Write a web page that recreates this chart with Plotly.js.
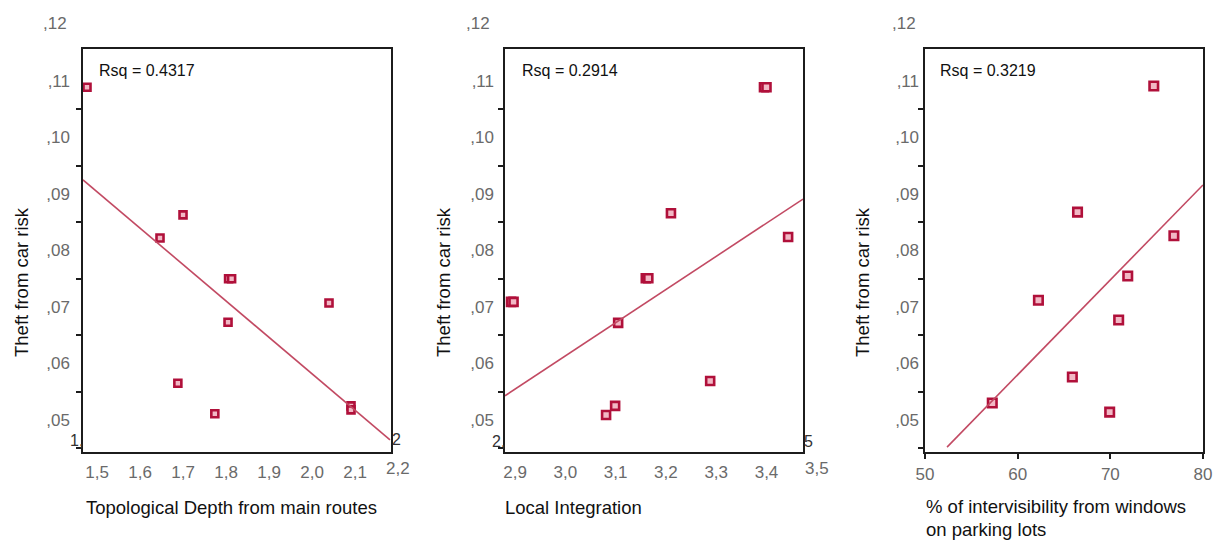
<!DOCTYPE html>
<html>
<head>
<meta charset="utf-8">
<script src="https://cdn.plot.ly/plotly-3.0.1.min.js"></script>
<style>html,body{margin:0;padding:0;background:#fff;}#chart{width:1216px;height:540px;}</style>
</head>
<body>
<div id="chart"></div>
<script>
// ---------- data ----------
const yTitle = "Theft from car risk";
const yLabelVals = [0.05, 0.06, 0.07, 0.08, 0.09, 0.10, 0.11];
const yLabelText = [",05", ",06", ",07", ",08", ",09", ",10", ",11"];
const yTopLabelText = ",12";
const yTickVals = [0.045, 0.055, 0.065, 0.075, 0.085, 0.095, 0.105];

// Panel 1
const p1Title = "Topological Depth from main routes";
const p1Rsq = "Rsq = 0.4317";
const p1XLabelVals = [1.5, 1.6, 1.7, 1.8, 1.9, 2.0, 2.1];
const p1XLabelText = ["1,5", "1,6", "1,7", "1,8", "1,9", "2,0", "2,1"];
const p1XEdgeText = "2,2";
const p1X = [1.4767, 1.6465, 1.700, 1.806, 1.813, 1.8047, 2.0395, 1.688, 1.774, 2.0907, 2.0907];
const p1Y = [0.1089, 0.0822, 0.0863, 0.0750, 0.0750, 0.0673, 0.0707, 0.0565, 0.0511, 0.0525, 0.0518];
const p1FitX = [1.4674, 2.1814];
const p1FitY = [0.0925, 0.0465];

// Panel 2
const p2Title = "Local Integration";
const p2Rsq = "Rsq = 0.2914";
const p2XLabelVals = [2.9, 3.0, 3.1, 3.2, 3.3, 3.4];
const p2XLabelText = ["2,9", "3,0", "3,1", "3,2", "3,3", "3,4"];
const p2XEdgeText = "3,5";
const p2X = [3.395, 3.400, 3.210, 3.443, 2.892, 2.897, 3.160, 3.165, 3.105, 3.288, 3.081, 3.099];
const p2Y = [0.1089, 0.1089, 0.0866, 0.0824, 0.0709, 0.0709, 0.0751, 0.0751, 0.0672, 0.0569, 0.0509, 0.0525];
const p2FitX = [2.880, 3.4726];
const p2FitY = [0.0543, 0.0891];

// Panel 3
const p3Title1 = "% of intervisibility from windows";
const p3Title2 = "on parking lots";
const p3Rsq = "Rsq = 0.3219";
const p3XLabelVals = [50, 60, 70, 80];
const p3XLabelText = ["50", "60", "70", "80"];
const p3X = [74.69, 66.46, 76.86, 71.88, 62.24, 70.90, 65.90, 57.26, 69.93];
const p3Y = [0.1091, 0.0868, 0.0826, 0.0755, 0.0712, 0.0677, 0.0576, 0.0530, 0.0514];
const p3FitX = [52.38, 80];
const p3FitY = [0.0452, 0.0916];

// corner artefact labels
const cornerLabels = ["1,", "2", "2,", "5"];

// ---------- styling ----------
const W = 1216, H = 540;
const FONT = "Liberation Sans, Arial, sans-serif";
const tickGray = "#6a6a6a";
const axisCol = "#1c1c1c";
const markCol = "#b0103a";
const fitCol = "#c24a63";
const yRange = [0.04434, 0.11566];
const yDomain = [(H - 452) / H, (H - 49) / H];
const xDomains = [[83 / W, 391 / W], [505 / W, 803 / W], [925 / W, 1203 / W]];
const xRanges = [[1.4674, 2.1837], [2.880, 3.4726], [50, 80]];

function pts(x, y, xa, ya, size) {
  return { x: x, y: y, xaxis: xa, yaxis: ya, type: "scatter", mode: "markers", showlegend: false, hoverinfo: "skip",
    marker: { symbol: "square", size: size, color: "#f2b8c5", line: { color: markCol, width: 2.6 } } };
}
function fit(x, y, xa, ya) {
  return { x: x, y: y, xaxis: xa, yaxis: ya, type: "scatter", mode: "lines", showlegend: false, hoverinfo: "skip",
    line: { color: fitCol, width: 1.6 } };
}

const data = [
  fit(p1FitX, p1FitY, "x", "y4"), pts(p1X, p1Y, "x", "y", 7),
  fit(p2FitX, p2FitY, "x2", "y5"), pts(p2X, p2Y, "x2", "y2", 8),
  fit(p3FitX, p3FitY, "x3", "y6"), pts(p3X, p3Y, "x3", "y3", 8.5)
];

const tickFont = { family: FONT, size: 17, color: tickGray };
function xAxis(i, vals, text, ticks) {
  return { domain: xDomains[i], range: xRanges[i], anchor: i === 0 ? "y" : "y" + (i + 1),
    showline: true, linecolor: axisCol, linewidth: 2, mirror: true, showgrid: false, zeroline: false,
    tickmode: "array", tickvals: vals, ticktext: text, tickfont: tickFont,
    ticks: ticks ? "outside" : "", ticklen: 5, tickwidth: 2, tickcolor: axisCol, ticklabelstandoff: ticks ? 1 : 4 };
}
function yDataAxis(i) {
  return { domain: yDomain, range: yRange, anchor: i === 0 ? "x" : "x" + (i + 1),
    showline: true, linecolor: axisCol, linewidth: 2, mirror: true, showgrid: false, zeroline: false,
    tickmode: "array", tickvals: yTickVals, ticks: "outside", ticklen: 5, tickwidth: 2, tickcolor: axisCol,
    showticklabels: false };
}
function yLabelAxis(i, standoff) {
  return { range: yRange, overlaying: i === 0 ? "y" : "y" + (i + 1), anchor: i === 0 ? "x" : "x" + (i + 1), side: "left",
    showline: false, showgrid: false, zeroline: false, ticks: "",
    tickmode: "array", tickvals: yLabelVals, ticktext: yLabelText, tickfont: tickFont, ticklabelstandoff: standoff };
}

const ann = [];
// ",12" labels above each box (right edges)
const topLabelRight = [69, 492, 918];
for (let i = 0; i < 3; i++) {
  ann.push({ text: yTopLabelText, xref: "paper", x: topLabelRight[i] / W, xanchor: "right",
    yref: "paper", y: (H - 24) / H, yanchor: "middle", showarrow: false, font: tickFont });
}
// edge x labels that fall just outside the box
ann.push({ text: p1XEdgeText, xref: "paper", x: 398 / W, xanchor: "center", yref: "paper", y: (H - 468) / H, yanchor: "middle", showarrow: false, font: tickFont });
ann.push({ text: p2XEdgeText, xref: "paper", x: 817 / W, xanchor: "center", yref: "paper", y: (H - 468) / H, yanchor: "middle", showarrow: false, font: tickFont });
// Rsq
const rsq = [p1Rsq, p2Rsq, p3Rsq];
const rsqX = [97, 520, 938];
for (let i = 0; i < 3; i++) {
  ann.push({ text: rsq[i], xref: "paper", x: rsqX[i] / W, xanchor: "left", yref: "paper", y: (H - 70) / H, yanchor: "middle",
    showarrow: false, font: { family: FONT, size: 16, color: "#111" } });
}
// y titles
const ytX = [22, 444, 863];
for (let i = 0; i < 3; i++) {
  ann.push({ text: yTitle, textangle: -90, xref: "paper", x: ytX[i] / W, xanchor: "center", yref: "paper", y: (H - 282) / H, yanchor: "middle",
    showarrow: false, font: { family: FONT, size: 18.5, color: "#111" } });
}
// x titles
const xtFont = { family: FONT, size: 18.5, color: "#111" };
ann.push({ text: p1Title, xref: "paper", x: 84 / W, xanchor: "left", yref: "paper", y: (H - 507) / H, yanchor: "middle", showarrow: false, font: xtFont });
ann.push({ text: p2Title, xref: "paper", x: 503 / W, xanchor: "left", yref: "paper", y: (H - 507) / H, yanchor: "middle", showarrow: false, font: xtFont });
ann.push({ text: p3Title1, xref: "paper", x: 924 / W, xanchor: "left", yref: "paper", y: (H - 506) / H, yanchor: "middle", showarrow: false, font: xtFont });
ann.push({ text: p3Title2, xref: "paper", x: 924 / W, xanchor: "left", yref: "paper", y: (H - 529) / H, yanchor: "middle", showarrow: false, font: xtFont });
// corner artefacts
const cornerPos = [[76, 440], [396, 439], [498, 441], [808, 441]];
const cornerFont = { family: FONT, size: 16, color: "#333" };
for (let i = 0; i < cornerLabels.length; i++) {
  ann.push({ text: cornerLabels[i], xref: "paper", x: cornerPos[i][0] / W, xanchor: "center", yref: "paper", y: (H - cornerPos[i][1]) / H, yanchor: "middle", showarrow: false, font: cornerFont });
}

const layout = {
  width: W, height: H, margin: { l: 0, r: 0, t: 0, b: 0 },
  paper_bgcolor: "#fff", plot_bgcolor: "#fff", showlegend: false,
  font: { family: FONT },
  xaxis: xAxis(0, p1XLabelVals, p1XLabelText, false),
  xaxis2: xAxis(1, p2XLabelVals, p2XLabelText, false),
  xaxis3: xAxis(2, p3XLabelVals, p3XLabelText, true),
  yaxis: yDataAxis(0), yaxis2: yDataAxis(1), yaxis3: yDataAxis(2),
  yaxis4: yLabelAxis(0, 12), yaxis5: yLabelAxis(1, 10), yaxis6: yLabelAxis(2, 5),
  annotations: ann
};

Plotly.newPlot("chart", data, layout, { staticPlot: true, displayModeBar: false });
</script>
</body>
</html>
